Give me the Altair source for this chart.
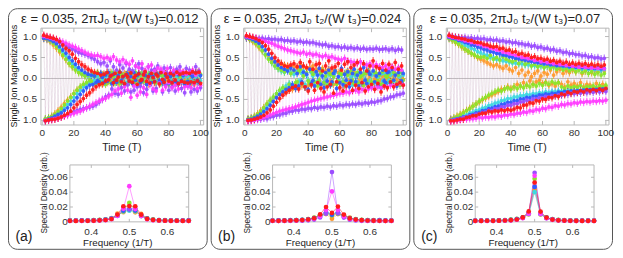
import altair as alt
import pandas as pd

FONT = "Liberation Sans"
W, H = 200, 242
TX0, TX1, TY0, TY1 = 33, 196, 20, 117
SX0, SX1, SY0, SY1 = 62, 181, 157, 214

SERIES = ["orange", "cyan", "lime", "blue", "purple", "magenta", "red"]
COLORS = ["#ff9a2e", "#3fd9e0", "#8ae62a", "#2f5cff", "#9b4dff", "#ff3cff", "#ff1a1a"]
LINE_OPACITY = [0.06, 0.06, 0.06, 0.07, 0.32, 0.30, 0.72]

TITLES = ["ε = 0.035, 2πJ₀ t₂/(W t₃)=0.012",
          "ε = 0.035, 2πJ₀ t₂/(W t₃)=0.024",
          "ε = 0.035, 2πJ₀ t₂/(W t₃)=0.07"]
LABELS = ["(a)", "(b)", "(c)"]

TIME = list(range(1, 101))
FREQ_K = list(range(22, 43))          # frequency = k/64 in 1/T
FREQ = [k / 64 for k in FREQ_K]
ERR = 0.09

TIME_TICKS = [0, 20, 40, 60, 80, 100]
TIME_LABELS = ["0", "20", "40", "60", "80", "100"]
MAG_TICKS = [-1.0, -0.5, 0.0, 0.5, 1.0]
MAG_LABELS = ["- 1.0", "- 0.5", "0.0", "0.5", "1.0"]
FREQ_TICKS = [0.4, 0.5, 0.6]
FREQ_LABELS = ["0.4", "0.5", "0.6"]
SPEC_TICKS = [0.0, 0.02, 0.04, 0.06]
SPEC_LABELS = ["0", "0.02", "0.04", "0.06"]
TIME_DOMAIN = [-0.8, 102]
MAG_DOMAIN = [-1.11, 1.2]
SPEC_DOMAIN = [0, 0.0766]

# ---------------- panel (a): single-ion magnetizations (x100) ----------------
A_RED = [103,-101,100,-99,98,-98,96,-97,93,-95, 88,-92,80,-88,72,-84,66,-78,58,-70,
         48,-62,40,-55,33,-48,28,-40,22,-34, 18,-27,14,-20,12,-15,8,-12,10,-6,
         14,-3,6,8,-10,12,-4,3,15,-8, 5,-12,9,4,-6,13,-9,2,7,-14,
         11,-5,-3,9,16,-7,4,-11,12,2, -8,10,6,-13,14,-2,-9,11,3,-6,
         12,-10,8,-4,15,-12,10,-7,13,-9, 14,-11,12,-8,16,-10,13,-6,15,-12]
A_MAG = [101,-100,99,-99,97,-98,95,-96,93,-95, 90,-92,87,-90,84,-88,80,-85,77,-83,
         74,-80,70,-78,66,-74,62,-70,58,-66, 56,-62,54,-58,55,-54,52,-50,48,-47,
         50,-42,46,-38,52,-30,44,-25,40,-35, 45,-20,38,-28,34,-45,42,-18,30,-40,
         26,-32,35,-22,20,-38,28,-15,32,-25, 18,-30,25,-12,22,-28,15,-20,24,-10,
         14,-22,20,-16,12,-25,18,-8,16,-20, 10,-18,15,-22,20,-12,8,-24,14,-16]
A_PUR = [100,-101,98,-100,96,-98,93,-96,90,-94, 86,-92,82,-89,78,-86,74,-82,70,-80,
         66,-77,62,-74,60,-72,58,-70,55,-68, 50,-66,46,-62,40,-56,35,-50,38,-44,
         30,-40,42,-25,28,-35,20,-38,33,-22, 25,-30,36,-15,22,-32,18,-28,30,-20,
         35,-18,24,-34,15,-26,28,-12,20,-30, 22,-24,30,-10,18,-32,25,-16,12,-28,
         26,-20,16,-30,22,-14,28,-24,10,-34, 24,-18,20,-32,12,-26,28,-30,18,-22]
A_BLU = [96,-100,95,-97,92,-94,88,-90,83,-86, 76,-82,68,-76,60,-70,50,-62,42,-54,
         34,-46,26,-38,20,-30,14,-22,10,-16, 8,-14,6,-10,-5,-8,12,3,-10,8,
         -7,14,5,-12,10,-4,-9,7,15,-5, 4,-14,9,11,-7,5,-12,14,-4,7,
         12,-9,-5,10,7,-14,4,9,-10,5, -7,12,9,-5,14,-10,-4,7,10,-12,
         5,-9,12,-7,-10,9,14,-5,7,-14, 10,-7,-12,9,5,-10,14,-4,-9,7]
A_CYA = [98,-98,96,-96,92,-93,87,-89,80,-84, 72,-78,63,-70,54,-62,44,-54,35,-45,
         27,-36,20,-28,14,-20,9,-14,6,-9, 6,-10,-5,9,4,-7,10,-3,-9,5,
         9,-5,4,10,-7,-9,5,12,-4,-10, 7,4,-10,9,-5,12,-7,-4,10,5,
         -9,7,10,-5,4,-12,9,5,-7,-4, 10,-9,5,7,-10,4,-5,12,9,-7,
         -4,10,7,-9,5,-5,12,-10,4,9, -7,5,10,-4,-9,7,4,-10,9,-5]
A_LIM = [97,-96,95,-94,90,-91,84,-86,76,-80, 66,-72,56,-63,46,-54,36,-45,28,-36,
         20,-28,14,-20,10,-14,6,-10,8,-5, -7,10,5,-12,14,-5,-10,9,7,-14,
         12,-7,-9,14,5,-10,15,-4,-12,9, 7,-14,10,5,-9,12,-5,-10,14,4,
         -10,9,12,-7,4,-14,10,7,-9,-5, 14,-10,5,9,-12,7,-4,10,9,-14,
         5,-9,14,-7,-10,12,4,-5,10,-12, 9,-5,-10,14,7,-9,12,-4,-7,10]
A_ORA = [95,-97,93,-94,88,-90,80,-84,72,-77, 63,-69,54,-60,45,-52,36,-44,28,-36,
         22,-28,16,-22,12,-16,8,-12,6,-8, 7,-10,-9,12,5,-7,10,-14,4,9,
         -10,7,14,-5,-9,10,4,-12,9,5, -7,12,5,-10,14,-4,-9,7,10,-5,
         9,-12,4,10,-7,5,-14,9,7,-4, -10,14,5,-9,12,-7,4,10,-5,-12,
         7,9,-10,5,-4,14,-9,7,12,-5, 10,-7,4,-12,9,5,-10,14,-4,-9]

# ---------------- panel (b) ----------------
B_RED = [102,-100,100,-99,98,-97,95,-95,91,-92, 86,-88,78,-82,70,-75,60,-66,50,-57,
         42,-48,36,-40,30,-34,28,-28,32,-22, 35,-18,28,-25,38,-12,30,-20,26,-30,
         40,-15,22,-28,33,-10,36,-24,18,-32, 30,-20,42,-14,25,-35,28,-8,36,-22,
         20,-30,34,-18,40,-12,26,-28,32,-16, 38,-24,22,-10,35,-30,18,-20,30,-14,
         42,-26,28,-12,24,-32,36,-18,20,-22, 34,-8,26,-20,38,-14,22,-10,30,-16]
B_MAG = [100,-101,99,-100,97,-99,95,-97,93,-95, 91,-93,89,-90,86,-87,84,-84,80,-81,
         77,-78,74,-76,71,-74,68,-72,66,-70, 64,-68,62,-65,60,-62,63,-60,58,-57,
         60,-54,56,-52,58,-50,54,-48,52,-46, 55,-44,50,-42,52,-40,48,-38,46,-36,
         44,-35,48,-32,42,-34,40,-30,38,-28, 36,-32,40,-26,34,-28,32,-25,35,-22,
         30,-24,33,-20,28,-22,26,-18,30,-20, 24,-16,28,-18,22,-14,26,-12,20,-15]
B_PUR = [99,-100,98,-100,97,-99,96,-98,95,-97, 96,-95,94,-96,95,-92,93,-91,94,-88,
         92,-87,93,-84,90,-83,91,-79,89,-78, 90,-75,87,-76,89,-73,86,-74,87,-71,
         85,-72,86,-69,83,-71,82,-68,80,-69, 81,-66,77,-68,78,-65,75,-66,76,-63,
         73,-65,75,-62,72,-63,74,-61,71,-62, 73,-59,70,-61,72,-58,69,-59,71,-56,
         70,-57,72,-54,69,-53,70,-49,71,-48, 68,-44,71,-43,67,-39,70,-38,68,-35]
B_BLU = [97,-99,96,-97,93,-94,89,-90,84,-85, 76,-79,68,-72,58,-64,48,-55,40,-46,
         32,-38,26,-32,22,-26,18,-22,25,-15, 20,-24,12,-18,28,-8,15,-20,10,-26,
         22,-12,-5,-18,16,8,24,-14,6,-22, 14,-6,20,-16,-8,12,18,-24,4,-10,
         24,-15,10,-4,16,-20,-6,12,22,-8, 8,-18,14,-10,26,-4,-12,16,10,-20,
         18,-8,6,-16,12,-22,20,-6,-10,14, 16,-12,22,-4,8,-18,14,-10,-6,12]
B_CYA = [98,-98,96,-96,92,-93,86,-88,78,-82, 68,-74,58,-65,48,-56,38,-46,30,-37,
         24,-30,18,-24,15,-18,20,-12,14,-16, 10,-20,16,-8,-6,12,18,-14,8,-4,
         -10,14,6,-16,12,-6,-12,10,16,-8, 4,-14,10,8,-12,6,14,-10,-4,12,
         8,-6,-14,10,12,-8,4,-16,10,6, -8,14,6,-12,10,-4,16,-10,-6,8,
         12,-10,8,4,-14,10,-6,12,6,-10, -4,8,12,-6,10,-12,6,4,-10,8]
B_LIM = [97,-97,94,-95,90,-91,84,-86,76,-79, 66,-70,56,-61,46,-52,38,-44,30,-36,
         24,-28,20,-22,16,-24,22,-14,12,-20, 18,-10,-8,16,22,-12,6,-20,14,-6,
         -12,18,10,-8,16,-18,-4,12,20,-10, 6,-16,14,10,-12,4,18,-14,-6,12,
         10,-8,-16,14,8,-10,16,-4,-12,10, 14,-12,4,8,-16,12,-6,18,10,-8,
         -10,14,12,-6,8,-14,16,-10,6,4, 12,-8,-6,14,10,-12,8,-16,14,-4]
B_ORA = [96,-97,93,-94,88,-90,82,-84,74,-77, 66,-69,58,-61,50,-54,44,-47,40,-42,
         36,-38,34,-35,32,-30,30,-28,28,-26, 30,-24,26,-22,32,-18,28,-20,24,-16,
         26,-14,30,-18,22,-10,20,-16,24,-8, 18,-12,22,-6,16,-14,20,-8,14,-10,
         16,-6,12,-12,18,-4,10,-8,14,-10, 8,-6,14,-2,10,-8,12,-4,6,-10,
         10,-2,8,-6,12,-4,6,-8,10,-2, 4,-6,8,-2,10,-4,6,-8,4,-2]

# ---------------- panel (c) ----------------
C_RED = [103,-101,100,-101,98,-99,97,-97,95,-97, 94,-93,91,-92,91,-89,87,-89,86,-85,
         85,-83,81,-83,80,-78,77,-80,75,-77, 76,-78,71,-75,72,-77,67,-74,68,-76,
         63,-73,64,-69,58,-70,60,-64,55,-63, 56,-58,50,-59,52,-53,47,-54,48,-49,
         44,-50,46,-45,41,-46,43,-41,38,-43, 41,-37,36,-39,39,-33,34,-36,37,-31,
         33,-33,36,-29,32,-32,35,-27,31,-30, 34,-26,30,-29,33,-25,29,-28,32,-24]
C_MAG = [100,-102,98,-101,97,-100,94,-99,93,-98, 90,-97,89,-96,86,-96,85,-95,82,-93,
         81,-94,77,-92,76,-93,72,-91,71,-92, 68,-89,67,-90,63,-87,62,-88,59,-85,
         58,-86,55,-83,54,-83,50,-80,50,-81, 47,-77,47,-78,43,-74,44,-75,40,-71,
         41,-72,38,-68,38,-69,35,-65,36,-66, 33,-62,34,-63,31,-60,32,-61,29,-58,
         30,-59,27,-56,29,-57,26,-55,27,-56, 25,-54,26,-55,24,-53,26,-54,23,-52]
C_PUR = [101,-100,100,-99,99,-97,98,-96,97,-93, 98,-92,96,-89,97,-88,95,-85,96,-84,
         94,-81,95,-80,92,-76,93,-76,91,-72, 92,-72,89,-68,90,-68,87,-64,88,-64,
         85,-60,86,-60,83,-56,83,-56,80,-52, 81,-53,77,-49,78,-49,74,-46,75,-46,
         71,-43,72,-44,68,-41,69,-42,65,-39, 66,-40,62,-37,63,-38,59,-35,60,-36,
         57,-34,57,-35,54,-32,55,-34,51,-31, 52,-33,49,-30,50,-32,47,-29,48,-31]
C_BLU = [98,-100,96,-98,95,-96,91,-95,90,-92, 86,-91,84,-87,80,-86,79,-82,75,-81,
         73,-77,70,-76,68,-72,64,-71,63,-67, 60,-66,59,-62,56,-61,55,-57,52,-57,
         51,-53,48,-53,47,-49,45,-49,44,-45, 42,-46,41,-42,39,-43,38,-39,37,-40,
         35,-37,35,-38,33,-35,33,-36,31,-33, 31,-34,30,-31,30,-32,28,-30,29,-31,
         27,-29,28,-30,26,-28,27,-29,25,-27, 26,-28,24,-26,25,-27,23,-25,24,-26]
C_CYA = [97,-99,94,-97,92,-95,88,-93,85,-89, 80,-87,77,-83,72,-81,69,-77,64,-75,
         61,-71,57,-69,55,-65,51,-63,49,-59, 46,-57,45,-53,42,-52,41,-48,39,-48,
         37,-44,37,-44,35,-41,35,-41,33,-38, 33,-39,31,-36,31,-37,29,-34,30,-35,
         28,-32,29,-34,27,-31,28,-32,26,-30, 27,-31,25,-29,26,-30,24,-28,25,-29,
         24,-27,24,-28,23,-26,23,-27,22,-25, 23,-26,21,-24,22,-25,20,-23,21,-24]
C_LIM = [96,-98,92,-95,87,-91,82,-87,76,-82, 70,-77,65,-72,60,-66,56,-61,52,-55,
         50,-50,52,-45,48,-40,55,-36,46,-32, 50,-28,44,-30,52,-25,46,-22,42,-26,
         40,-20,44,-24,36,-18,42,-22,34,-16, 38,-20,30,-14,34,-18,28,-12,32,-16,
         26,-10,30,-14,24,-8,28,-12,22,-10, 26,-20,20,-24,24,-18,18,-22,22,-19,
         16,-21,20,-17,14,-23,18,-19,12,-20, 16,-18,10,-22,14,-17,8,-20,12,-16]
C_ORA = [95,-97,91,-94,86,-90,81,-86,75,-81, 70,-76,65,-71,60,-66,55,-61,50,-56,
         46,-51,42,-47,38,-43,34,-39,30,-35, 33,-31,28,-26,24,-25,30,-20,22,-24,
         18,-20,26,-14,12,-18,20,-10,8,-16, 15,-6,4,-14,12,-8,18,-4,6,-12,
         14,-9,10,-16,20,-12,8,-18,16,-10, 22,-14,12,-20,18,-8,14,-16,20,-12,
         16,-18,24,-10,12,-20,18,-14,22,-16, 14,-22,20,-12,16,-18,24,-14,18,-20]

# ---------------- spectral densities (x1e-4), one value per FREQ ----------------
SA_RED = [14,13,15,14,16,20,25,38,98,210,212,210,96,40,26,19,16,14,15,13,14]
SA_MAG = [12,14,12,15,14,17,22,35,80,175,480,172,78,34,21,17,15,13,14,12,13]
SA_PUR = [15,16,14,17,18,21,26,44,90,185,170,182,88,42,25,20,17,16,15,16,14]
SA_BLU = [18,17,19,18,20,24,30,45,85,150,168,152,84,44,28,22,19,18,17,18,19]
SA_CYA = [20,19,21,20,22,25,32,46,80,140,150,142,78,45,30,23,21,20,19,20,21]
SA_LIM = [19,20,18,21,22,26,33,48,82,145,255,148,80,46,31,24,22,21,20,19,20]
SA_ORA = [16,15,17,16,19,23,30,50,110,130,160,128,108,48,29,21,18,17,16,17,16]

SB_RED = [15,14,16,18,20,24,32,48,100,200,120,205,98,46,30,22,18,16,15,14,15]
SB_MAG = [12,13,14,15,17,22,28,42,75,160,410,158,72,40,26,18,15,14,13,12,13]
SB_PUR = [14,12,13,14,15,16,20,30,60,110,670,112,58,28,18,14,13,12,14,13,12]
SB_BLU = [18,20,19,22,24,26,34,50,85,130,95,128,82,48,32,24,21,20,22,19,18]
SB_CYA = [20,19,21,20,23,27,35,52,82,120,105,118,80,50,33,25,22,21,20,21,19]
SB_LIM = [17,19,18,21,24,28,38,55,88,112,88,110,86,52,36,27,24,22,19,18,17]
SB_ORA = [16,17,16,18,20,25,36,58,92,105,42,104,90,56,34,23,19,17,16,15,16]

SC_RED = [14,13,15,14,16,18,22,32,60,140,530,138,58,30,21,17,15,14,13,14,13]
SC_MAG = [12,13,12,14,15,17,20,28,50,110,620,108,48,27,19,16,14,13,12,13,12]
SC_PUR = [13,12,14,13,15,17,21,30,52,112,660,110,50,29,20,16,14,13,14,12,13]
SC_BLU = [16,17,16,18,19,21,26,36,58,115,470,112,56,34,24,20,18,17,16,17,16]
SC_CYA = [18,17,19,18,20,22,28,38,56,105,400,102,54,36,25,21,19,18,17,18,17]
SC_LIM = [17,18,17,19,21,24,30,40,62,120,580,118,60,38,28,22,20,19,18,17,18]
SC_ORA = [15,16,15,17,18,21,26,35,54,100,430,98,52,33,23,19,17,16,15,16,15]

TOP = [
    dict(zip(SERIES, [A_ORA, A_CYA, A_LIM, A_BLU, A_PUR, A_MAG, A_RED])),
    dict(zip(SERIES, [B_ORA, B_CYA, B_LIM, B_BLU, B_PUR, B_MAG, B_RED])),
    dict(zip(SERIES, [C_ORA, C_CYA, C_LIM, C_BLU, C_PUR, C_MAG, C_RED])),
]
SPEC = [
    dict(zip(SERIES, [SA_ORA, SA_CYA, SA_LIM, SA_BLU, SA_PUR, SA_MAG, SA_RED])),
    dict(zip(SERIES, [SB_ORA, SB_CYA, SB_LIM, SB_BLU, SB_PUR, SB_MAG, SB_RED])),
    dict(zip(SERIES, [SC_ORA, SC_CYA, SC_LIM, SC_BLU, SC_PUR, SC_MAG, SC_RED])),
]

ONE = pd.DataFrame({"a": [0]})
COLOR = alt.Color("s:N", scale=alt.Scale(domain=SERIES, range=COLORS), legend=None)
LOPAC = alt.Opacity("s:N", scale=alt.Scale(domain=SERIES, range=LINE_OPACITY), legend=None)
FRAME_C = "#b8b8b8"
LABEL_C = "#333333"


def tick_parts(xvals, xlabels, yvals, ylabels, xs, ys, x0, x1, y0, y1, L, xlab_y, ylab_x):
    tx = pd.DataFrame({"u": xvals, "lab": xlabels})
    ty = pd.DataFrame({"w": yvals, "lab": ylabels})
    xn = alt.X("u:Q", scale=xs, axis=None)
    yn = alt.Y("w:Q", scale=ys, axis=None)
    r = dict(color=FRAME_C, strokeWidth=1)
    tf = dict(font=FONT, fontSize=10, color=LABEL_C)
    return [
        alt.Chart(tx).mark_rule(**r).encode(x=xn, y=alt.value(y1), y2=alt.value(y1 - L)),
        alt.Chart(tx).mark_rule(**r).encode(x=xn, y=alt.value(y0), y2=alt.value(y0 + L)),
        alt.Chart(ty).mark_rule(**r).encode(y=yn, x=alt.value(x0), x2=alt.value(x0 + L)),
        alt.Chart(ty).mark_rule(**r).encode(y=yn, x=alt.value(x1), x2=alt.value(x1 - L)),
        alt.Chart(tx).mark_text(baseline="middle", align="center", **tf).encode(
            x=xn, y=alt.value(xlab_y), text="lab:N"),
        alt.Chart(ty).mark_text(baseline="middle", align="right", **tf).encode(
            y=yn, x=alt.value(ylab_x), text="lab:N"),
    ]


def top_plot(d):
    rows = [(t, v / 100, s) for s in SERIES for t, v in zip(TIME, d[s])]
    df = pd.DataFrame(rows, columns=["t", "v", "s"])
    df["lo"] = df["v"] - ERR
    df["hi"] = df["v"] + ERR
    xs = alt.Scale(domain=TIME_DOMAIN, range=[TX0, TX1], nice=False, zero=False)
    ys = alt.Scale(domain=MAG_DOMAIN, range=[TY1, TY0], nice=False, zero=False)
    xn = alt.X("t:Q", scale=xs, axis=None)
    yn = alt.Y("v:Q", scale=ys, axis=None)
    frame = alt.Chart(ONE).mark_rect(fill="transparent", stroke=FRAME_C, strokeWidth=1).encode(
        x=alt.value(TX0), x2=alt.value(TX1), y=alt.value(TY0), y2=alt.value(TY1))
    zero = alt.Chart(ONE).mark_rule(color="#c4c4c4", strokeWidth=1).encode(
        y=alt.Y(datum=0, scale=ys, axis=None), x=alt.value(TX0), x2=alt.value(TX1))
    base = alt.Chart(df)
    lines = base.mark_line(strokeWidth=0.6).encode(x=xn, y=yn, color=COLOR, opacity=LOPAC)
    bars = base.mark_rule(strokeWidth=1.1, opacity=0.8).encode(
        x=xn, y=alt.Y("lo:Q", scale=ys, axis=None), y2="hi:Q", color=COLOR)
    pts = base.mark_circle(size=15, opacity=0.95).encode(x=xn, y=yn, color=COLOR)
    ticks = tick_parts(TIME_TICKS, TIME_LABELS, MAG_TICKS, MAG_LABELS, xs, ys,
                       TX0, TX1, TY0, TY1, 4, TY1 + 8, TX0 - 4)
    return alt.layer(frame, zero, *ticks, lines, bars, pts)


def spec_plot(d):
    rows = [(f, v / 10000, s) for s in SERIES for f, v in zip(FREQ, d[s])]
    df = pd.DataFrame(rows, columns=["f", "p", "s"])
    xs = alt.Scale(domain=[FREQ[0], FREQ[-1]], range=[SX0, SX1], nice=False, zero=False)
    ys = alt.Scale(domain=SPEC_DOMAIN, range=[SY1, SY0], nice=False, zero=False)
    xn = alt.X("f:Q", scale=xs, axis=None)
    yn = alt.Y("p:Q", scale=ys, axis=None)
    frame = alt.Chart(ONE).mark_rect(fill="transparent", stroke=FRAME_C, strokeWidth=1).encode(
        x=alt.value(SX0), x2=alt.value(SX1), y=alt.value(SY0), y2=alt.value(SY1))
    base = alt.Chart(df)
    lines = base.mark_line(strokeWidth=1, opacity=0.5).encode(x=xn, y=yn, color=COLOR)
    pts = base.mark_circle(size=22, opacity=1).encode(x=xn, y=yn, color=COLOR)
    ticks = tick_parts(FREQ_TICKS, FREQ_LABELS, SPEC_TICKS, SPEC_LABELS, xs, ys,
                       SX0, SX1, SY0, SY1, 3, SY1 + 10, SX0 - 2)
    return alt.layer(frame, *ticks, lines, pts)


def text(txt, x, y, size, angle=0, **kw):
    return alt.Chart(ONE).mark_text(text=txt, fontSize=size, font=FONT, angle=angle,
                                    color="#222222", **kw).encode(x=alt.value(x), y=alt.value(y))


def column(i):
    border = alt.Chart(ONE).mark_rect(fill="transparent", stroke="#555555", strokeWidth=1,
                                      cornerRadius=9).encode(
        x=alt.value(0.5), x2=alt.value(W - 0.5), y=alt.value(0.5), y2=alt.value(H - 0.5))
    parts = [
        border,
        text(TITLES[i], W / 2 + 2, 10.5, 13),
        text("Single Ion Magnetizations", 6, 68, 9, angle=270),
        text("Time (T)", 114, 140, 10.5),
        text("Spectral Density (arb.)", 37, 185, 8.2, angle=270),
        text("Frequency  (1/T)", 110, 235, 9.8),
        text(LABELS[i], 16, 229, 14),
        top_plot(TOP[i]),
        spec_plot(SPEC[i]),
    ]
    return alt.layer(*parts).resolve_scale(x="independent", y="independent").properties(width=W, height=H)


chart = alt.hconcat(column(0), column(1), column(2), spacing=3, bounds="flush").properties(
    padding=0).configure_view(stroke=None)

chart.save("out.html", embed_options={"renderer": "svg", "actions": False})
